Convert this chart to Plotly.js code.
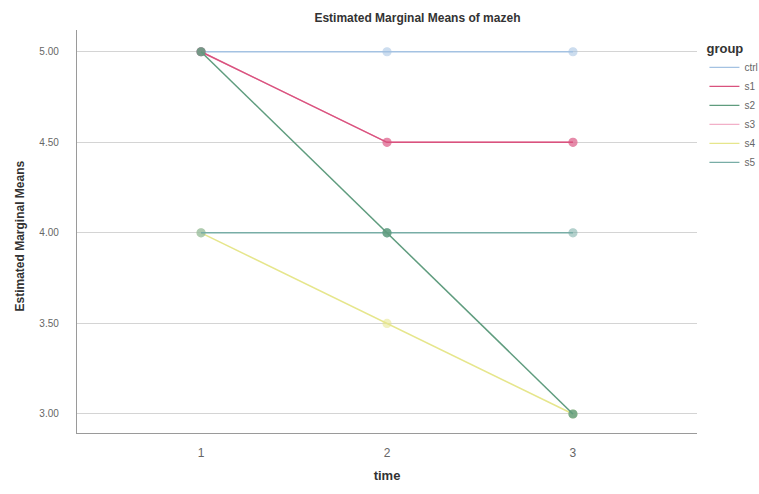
<!DOCTYPE html>
<html><head><meta charset="utf-8">
<script src="https://cdn.plot.ly/plotly-3.0.1.min.js"></script>
<style>body{margin:0;background:#fff}#c{width:759px;height:494px}</style>
</head><body><div id="c"></div>
<script>
const time = [1, 2, 3];
const groups = ["ctrl", "s1", "s2", "s3", "s4", "s5"];
const ctrl = [5.0, 5.0, 5.0];
const s1 = [5.0, 4.5, 4.5];
const s2 = [5.0, 4.0, 3.0];
const s3 = [5.0, 4.5, 4.5];
const s4 = [4.0, 3.5, 3.0];
const s5 = [4.0, 4.0, 4.0];
const yTicks = [3.0, 3.5, 4.0, 4.5, 5.0];
const yTickText = ["3.00", "3.50", "4.00", "4.50", "5.00"];

const values = [ctrl, s1, s2, s3, s4, s5];
const colors = ["#a4c2e2", "#d9527e", "#5f9c7e", "#f2b0c8", "#e6e68c", "#78ada6"];
const order = [3, 0, 1, 4, 5, 2]; // draw order
const data = [];
for (const k of order) {
  data.push({
    x: time, y: values[k], name: groups[k], type: "scatter", mode: "lines+markers",
    line: {color: colors[k], width: 1.5}, showlegend: false,
    marker: {symbol: "circle", size: 8, color: colors[k], opacity: k === 2 ? 0.8 : 0.55,
             line: {color: colors[k], width: 1.2}}
  });
}
// legend-only entries (lines without markers)
for (let k = 0; k < groups.length; k++) {
  data.push({x: [null], y: [null], name: groups[k], type: "scatter", mode: "lines",
             line: {color: colors[k], width: 1.2}, legendrank: k + 1, showlegend: true});
}

const layout = {
  width: 759, height: 494,
  margin: {l: 77, r: 62, t: 30, b: 61, autoexpand: false},
  paper_bgcolor: "#fff", plot_bgcolor: "#fff",
  font: {family: "Liberation Sans, Arial, sans-serif", color: "#555"},
  title: {text: "<b>Estimated Marginal Means of mazeh</b>", x: 0.55, xanchor: "center", y: 0.963, yanchor: "middle",
          font: {size: 12, color: "#333"}},
  xaxis: {range: [0.333, 3.667], tickvals: time, ticktext: time.map(String),
          showgrid: false, zeroline: false, showline: true, linecolor: "#9a9a9a", linewidth: 1.2,
          ticks: "", tickfont: {size: 12, color: "#666"}, ticklabelstandoff: 8,
          title: {text: "<b>time</b>", font: {size: 13, color: "#333"}, standoff: 12}},
  yaxis: {range: [2.895, 5.12], tickvals: yTicks, ticktext: yTickText,
          showgrid: true, gridcolor: "#d4d4d4", gridwidth: 1, zeroline: false,
          showline: true, linecolor: "#9a9a9a", linewidth: 1.2,
          ticks: "", tickfont: {size: 10, color: "#666"}, ticklabelstandoff: 15},
  annotations: [{text: "<b>Estimated Marginal Means</b>", xref: "paper", yref: "paper",
                 x: -0.092, y: 0.49, xanchor: "center", yanchor: "middle", textangle: -90,
                 showarrow: false, font: {size: 12, color: "#333"}}],
  legend: {x: 1.012, xanchor: "left", y: 0.985, yanchor: "top",
           title: {text: "<b>group</b>", font: {size: 13, color: "#333"}},
           font: {size: 10, color: "#666"}, tracegroupgap: 0, itemwidth: 30,
           bgcolor: "rgba(0,0,0,0)"},
  showlegend: true
};
Plotly.newPlot("c", data, layout, {displayModeBar: false, staticPlot: true});
</script></body></html>
